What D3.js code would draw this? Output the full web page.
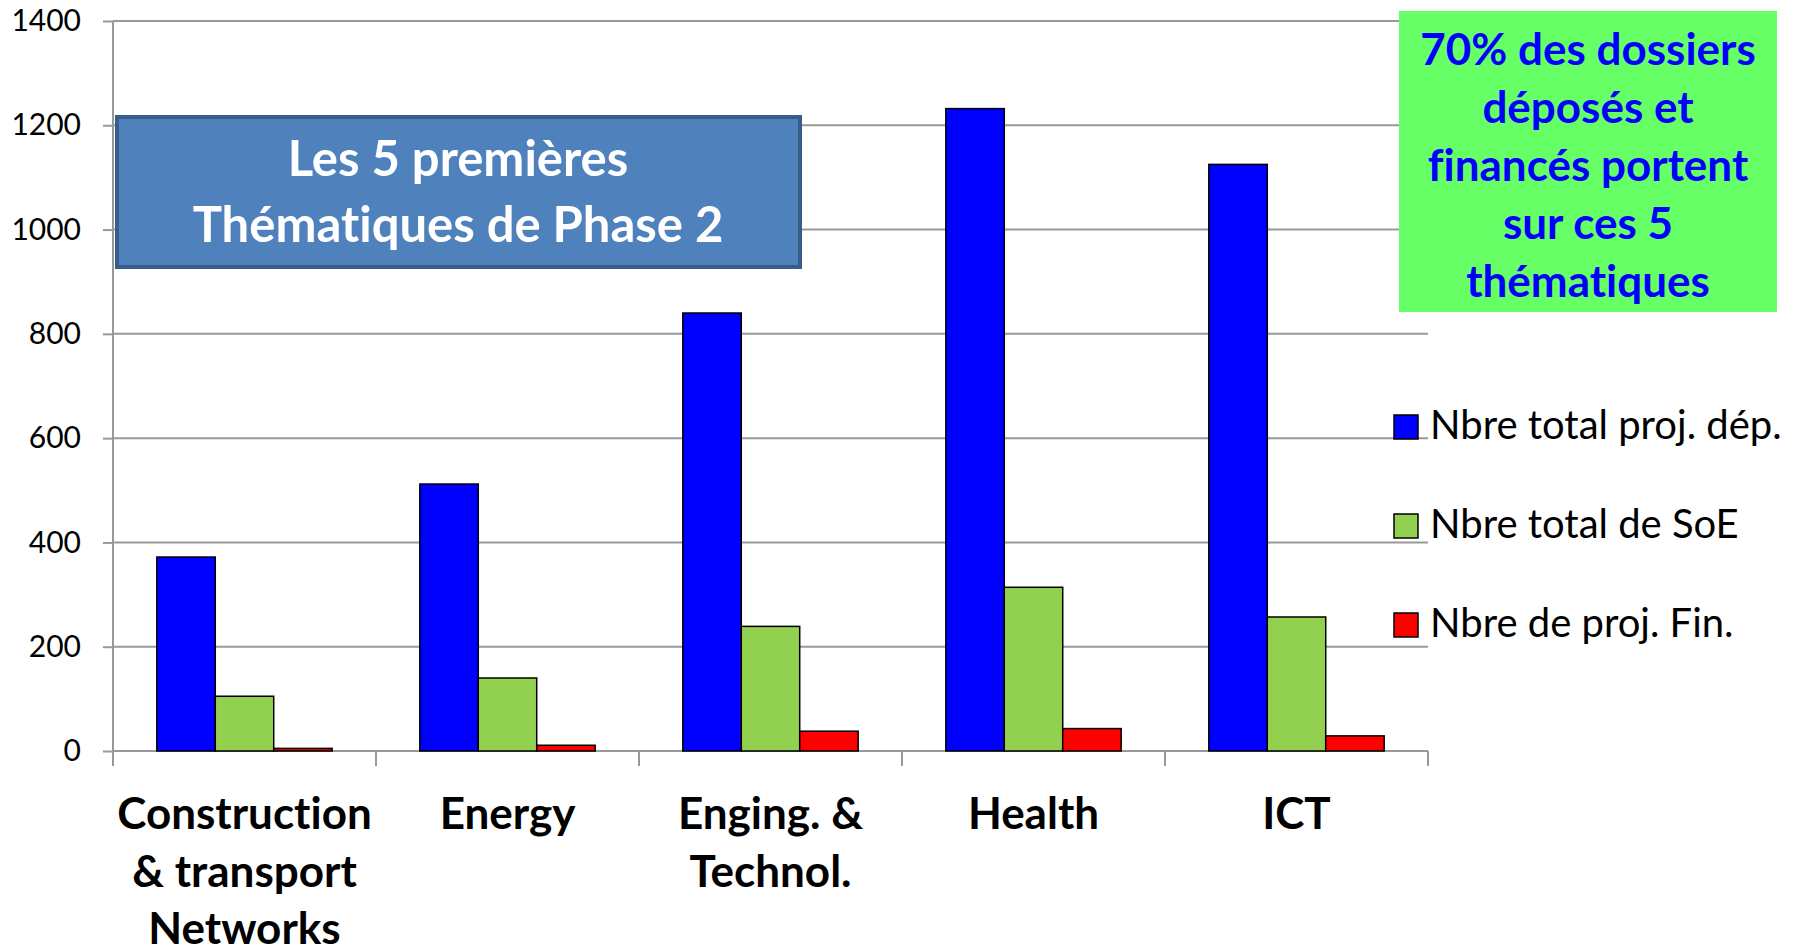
<!DOCTYPE html>
<html>
<head>
<meta charset="utf-8">
<script src="https://cdn.jsdelivr.net/npm/d3@7"></script>
<style>
  body { margin: 0; background: #fff; }
  svg { display: block; font-family: Lato, "Open Sans", sans-serif; font-variant-ligatures: none; }
</style>
</head>
<body>
<svg id="chart" width="1796" height="949"></svg>
<script>
const categories = ['Construction & transport Networks', 'Energy', 'Enging. & Technol.', 'Health', 'ICT']
const categoryLines = [
    ['Construction', '& transport', 'Networks'],
    ['Energy'],
    ['Enging. &', 'Technol.'],
    ['Health'],
    ['ICT']
]
const seriesNames = ['Nbre total proj. dép.', 'Nbre total de SoE', 'Nbre de proj. Fin.']
const deposited = [372, 512, 840, 1232, 1125]
const soe = [105, 140, 239, 314, 257]
const financed = [5, 11, 38, 43, 29]
const yTicks = [0, 200, 400, 600, 800, 1000, 1200, 1400]
const titleLines = ['Les 5 premières', 'Thématiques de Phase 2']
const noteLines = ['70% des dossiers', 'déposés et', 'financés portent', 'sur ces 5', 'thématiques']

const colors = ['#0000ff', '#92d050', '#ff0000']
const series = [deposited, soe, financed]

const plot = { left: 113, right: 1428, top: 21, bottom: 751 }

const svg = d3.select('#chart')

const x0 = d3.scaleBand()
    .domain(categories)
    .range([plot.left, plot.right])

const x1 = d3.scaleBand()
    .domain(seriesNames)
    .range([0, x0.bandwidth()])
    .paddingInner(0)
    .paddingOuter(0.75)

const y = d3.scaleLinear()
    .domain([0, 1400])
    .range([plot.bottom, plot.top])

// gridlines
svg.append('g')
    .selectAll('line')
    .data(yTicks)
    .join('line')
    .attr('x1', plot.left)
    .attr('x2', plot.right)
    .attr('y1', d => y(d))
    .attr('y2', d => y(d))
    .attr('stroke', '#999')
    .attr('stroke-width', 2)

// y axis
const yAxis = svg.append('g')
    .attr('transform', `translate(${plot.left},0)`)
    .call(d3.axisLeft(y).tickValues(yTicks).tickSize(10).tickPadding(22).tickFormat(d3.format('d')))

yAxis.select('.domain').remove()
yAxis.selectAll('line').attr('stroke', '#999').attr('stroke-width', 2)
yAxis.selectAll('text')
    .attr('font-family', 'Lato, sans-serif')
    .attr('font-size', 30)
    .attr('fill', '#000')

svg.append('line')
    .attr('x1', plot.left).attr('x2', plot.left)
    .attr('y1', plot.top).attr('y2', plot.bottom + 15)
    .attr('stroke', '#999')
    .attr('stroke-width', 2)

// category boundary ticks
const bounds = categories.map(c => x0(c)).concat([plot.right])
svg.append('g')
    .selectAll('line')
    .data(bounds.slice(1))
    .join('line')
    .attr('x1', d => d).attr('x2', d => d)
    .attr('y1', plot.bottom).attr('y2', plot.bottom + 15)
    .attr('stroke', '#999')
    .attr('stroke-width', 2)

// bars
const groups = svg.append('g')
    .selectAll('g')
    .data(categories)
    .join('g')
    .attr('transform', d => `translate(${x0(d)},0)`)

groups.selectAll('rect')
    .data((c, i) => series.map((s, j) => ({ name: seriesNames[j], value: s[i], color: colors[j] })))
    .join('rect')
    .attr('x', d => x1(d.name))
    .attr('width', x1.bandwidth())
    .attr('y', d => y(d.value))
    .attr('height', d => y(0) - y(d.value))
    .attr('fill', d => d.color)
    .attr('stroke', '#000')
    .attr('stroke-width', 1.5)

// category labels
svg.append('g')
    .selectAll('text')
    .data(categories)
    .join('text')
    .attr('text-anchor', 'middle')
    .attr('font-weight', 'bold')
    .attr('font-size', 44)
    .attr('fill', '#000')
    .each(function(c, i) {
        d3.select(this).selectAll('tspan')
            .data(categoryLines[i])
            .join('tspan')
            .attr('x', x0(c) + x0.bandwidth() / 2)
            .attr('y', (d, k) => 829 + k * 57.5)
            .text(d => d)
    })

// legend
const legend = svg.append('g')
    .selectAll('g')
    .data(seriesNames)
    .join('g')
    .attr('transform', (d, i) => `translate(1394, ${415 + i * 99})`)

legend.append('rect')
    .attr('width', 24)
    .attr('height', 24)
    .attr('fill', (d, i) => colors[i])
    .attr('stroke', '#000')
    .attr('stroke-width', 1.5)

legend.append('text')
    .attr('x', 36)
    .attr('y', 24)
    .attr('font-size', 40)
    .attr('fill', '#000')
    .text(d => d)

// title box
svg.append('rect')
    .attr('x', 117).attr('y', 117)
    .attr('width', 683).attr('height', 150)
    .attr('fill', '#4f81bd')
    .attr('stroke', '#385d8a')
    .attr('stroke-width', 4)

svg.append('text')
    .attr('text-anchor', 'middle')
    .attr('font-weight', 'bold')
    .attr('font-size', 49)
    .attr('fill', '#fff')
    .selectAll('tspan')
    .data(titleLines)
    .join('tspan')
    .attr('x', 458)
    .attr('y', (d, i) => 176 + i * 66)
    .text(d => d)

// note box
svg.append('rect')
    .attr('x', 1399).attr('y', 11)
    .attr('width', 378).attr('height', 301)
    .attr('fill', '#66ff66')

svg.append('text')
    .attr('text-anchor', 'middle')
    .attr('font-weight', 'bold')
    .attr('font-size', 44)
    .attr('fill', '#0000ff')
    .selectAll('tspan')
    .data(noteLines)
    .join('tspan')
    .attr('x', 1588)
    .attr('y', (d, i) => 65 + i * 58)
    .text(d => d)
</script>
</body>
</html>
